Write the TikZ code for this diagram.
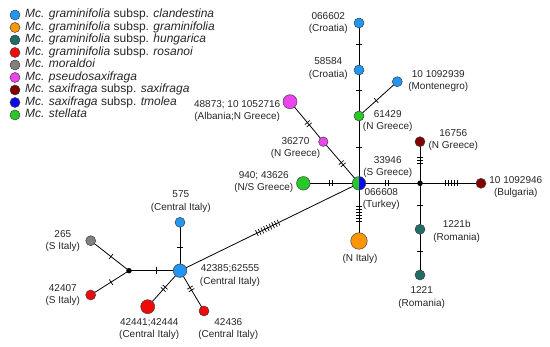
\documentclass[tikz,border=0pt]{standalone}
\usepackage{fontspec}
\setmainfont{Liberation Sans}
\usetikzlibrary{decorations.markings,backgrounds}
\definecolor{clan}{RGB}{33,150,243}
\definecolor{gram}{RGB}{255,150,0}
\definecolor{hung}{RGB}{30,110,100}
\definecolor{rosa}{RGB}{240,10,10}
\definecolor{mora}{RGB}{128,128,128}
\definecolor{pseu}{RGB}{238,68,238}
\definecolor{saxi}{RGB}{130,0,0}
\definecolor{tmol}{RGB}{10,10,235}
\definecolor{stel}{RGB}{40,200,40}
\tikzset{
  hap/.style n args={2}{circle, draw=black!75, line width=0.5pt, inner sep=0pt, minimum size=#2, fill=#1},
  junc/.style={circle, fill=black, inner sep=0pt, minimum size=5.5pt},
  lab/.style={font=\fontsize{10}{12.3}\selectfont, align=center, inner sep=0pt, text=black!85},
  leg/.style={font=\fontsize{12}{14}\selectfont, anchor=west, inner sep=0pt, text height=8.6pt, text depth=2.6pt, text=black!85},
  edge/.style={draw=black, line width=0.8pt},
  tickline/.style={draw=black, line width=0.7pt},
  ticks/.style n args={2}{postaction={decorate,decoration={markings,
     mark=at position #1 with {\foreach \k in {1,...,#2}{\draw[tickline] ({(\k-(#2+1)/2)*3pt},-3.2pt) -- ({(\k-(#2+1)/2)*3pt},3.2pt);}}}}},
}
\begin{document}
\begin{tikzpicture}[x=1pt,y=-1pt]
\useasboundingbox (0,0) rectangle (550,347);
% legend
\foreach \c/\t [count=\i from 0] in {
  clan/{\textit{Mc. graminifolia} subsp. \textit{clandestina}},
  gram/{\textit{Mc. graminifolia} subsp. \textit{graminifolia}},
  hung/{\textit{Mc. graminifolia} subsp. \textit{hungarica}},
  rosa/{\textit{Mc. graminifolia} subsp. \textit{rosanoi}},
  mora/{\textit{Mc. moraldoi}},
  pseu/{\textit{Mc. pseudosaxifraga}},
  saxi/{\textit{Mc. saxifraga} subsp. \textit{saxifraga}},
  tmol/{\textit{Mc. saxifraga} subsp. \textit{tmolea}},
  stel/{\textit{Mc. stellata}}}{
  \node[hap={\c}{10pt}] (legc\i) at (15,{15+12.5*\i}) {};
  \node[leg] (legt\i) at (25,{15+12.5*\i}) {\t};
}
% haplotypes
\node[hap={clan}{10pt}] (c602) at (359,23) {};
\node[hap={clan}{10pt}] (c584) at (359,70) {};
\node[hap={stel}{10pt}] (g429) at (359,116) {};
\node[hap={clan}{10pt}] (m939) at (397.3,81.7) {};
\node[hap={pseu}{14pt}] (p873) at (290,101.7) {};
\node[hap={pseu}{9.5pt}] (p270) at (323.3,141.7) {};
\node[hap={stel}{13.5pt}] (g940) at (303.3,183.3) {};
\node[circle, draw=black!75, line width=0.5pt, inner sep=0pt, minimum size=13.5pt,
  path picture={\fill[stel] (path picture bounding box.south west) rectangle (path picture bounding box.north);
                \fill[tmol] (path picture bounding box.south) rectangle (path picture bounding box.north east);}] (ctr) at (359,183.3) {};
\node[hap={gram}{16.5pt}] (o) at (359,241) {};
\node[junc] (j1) at (420,183.3) {};
\node[hap={saxi}{10pt}] (b946) at (481,183.3) {};
\node[hap={saxi}{10pt}] (r756) at (420,141.7) {};
\node[hap={hung}{10pt}] (t21b) at (420,229.3) {};
\node[hap={hung}{10pt}] (t1221) at (420,275) {};
\node[hap={clan}{13.5pt}] (ci) at (180,270.7) {};
\node[hap={clan}{10pt}] (b575) at (180,222.3) {};
\node[junc] (j2) at (129,270.7) {};
\node[hap={mora}{10pt}] (y265) at (90.7,240.7) {};
\node[hap={rosa}{10pt}] (r407) at (90.7,295) {};
\node[hap={rosa}{14pt}] (r441) at (147.7,306.7) {};
\node[hap={rosa}{10pt}] (r436) at (204,311) {};
% connectors
\begin{scope}[on background layer]
\draw[edge, ticks={0.45}{1}] (c602.center) -- (c584.center);
\draw[edge, ticks={0.44}{1}] (c584.center) -- (g429.center);
\draw[edge, ticks={0.45}{1}] (g429.center) -- (m939.center);
\draw[edge, ticks={0.46}{1}] (g429.center) -- (ctr.center);
\draw[edge, ticks={0.55}{2}] (p873.center) -- (p270.center);
\draw[edge, ticks={0.53}{2}] (p270.center) -- (ctr.center);
\draw[edge, ticks={0.49}{2}] (g940.center) -- (ctr.center);
\draw[edge, ticks={0.53}{6}] (ctr.center) -- (o.center);
\draw[edge, ticks={0.46}{2}] (ctr.center) -- (j1.center);
\draw[edge, ticks={0.52}{5}] (j1.center) -- (b946.center);
\draw[edge, ticks={0.55}{3}] (j1.center) -- (r756.center);
\draw[edge, ticks={0.48}{1}] (j1.center) -- (t21b.center);
\draw[edge, ticks={0.49}{1}] (t21b.center) -- (t1221.center);
\draw[edge, ticks={0.49}{9}] (ci.center) -- (ctr.center);
\draw[edge, ticks={0.48}{1}] (ci.center) -- (b575.center);
\draw[edge, ticks={0.53}{1}] (j2.center) -- (ci.center);
\draw[edge, ticks={0.53}{1}] (y265.center) -- (j2.center);
\draw[edge, ticks={0.53}{1}] (r407.center) -- (j2.center);
\draw[edge, ticks={0.49}{2}] (ci.center) -- (r441.center);
\draw[edge, ticks={0.45}{2}] (ci.center) -- (r436.center);
\end{scope}
% labels
\node[lab] (l602) at (328.3,23) {066602\\(Croatia)};
\node[lab] (l584) at (328.3,68.5) {58584\\(Croatia)};
\node[lab] (l939) at (438.3,81.3) {10 1092939\\(Montenegro)};
\node[lab] (l429) at (387.7,121.3) {61429\\(N Greece)};
\node[lab] (l756) at (453.3,140) {16756\\(N Greece)};
\node[lab] (l946) at (515.8,187.2) {10 1092946\\(Bulgaria)};
\node[lab] (l873) at (237.2,111.3) {48873; 10 1052716\\(Albania;N Greece)};
\node[lab] (l270) at (295.5,148.3) {36270\\(N Greece)};
\node[lab] (l940) at (263.8,182) {940; 43626\\(N/S Greece)};
\node[lab] (l946b) at (387.7,166.7) {33946\\(S Greece)};
\node[lab] (l608) at (381.3,198.8) {066608\\(Turkey)};
\node[lab] (lo) at (360,259) {(N Italy)};
\node[lab] (l21b) at (456.7,231.3) {1221b\\(Romania)};
\node[lab] (l1221) at (421.7,297.5) {1221\\(Romania)};
\node[lab] (l575) at (180.8,201.7) {575\\(Central Italy)};
\node[lab] (lci) at (230,275.5) {42385;62555\\(Central Italy)};
\node[lab] (l265) at (62.8,241.3) {265\\(S Italy)};
\node[lab] (l407) at (62.8,294.7) {42407\\(S Italy)};
\node[lab] (l441) at (149.2,328.7) {42441;42444\\(Central Italy)};
\node[lab] (l436) at (228.3,328.7) {42436\\(Central Italy)};
\end{tikzpicture}
\end{document}
